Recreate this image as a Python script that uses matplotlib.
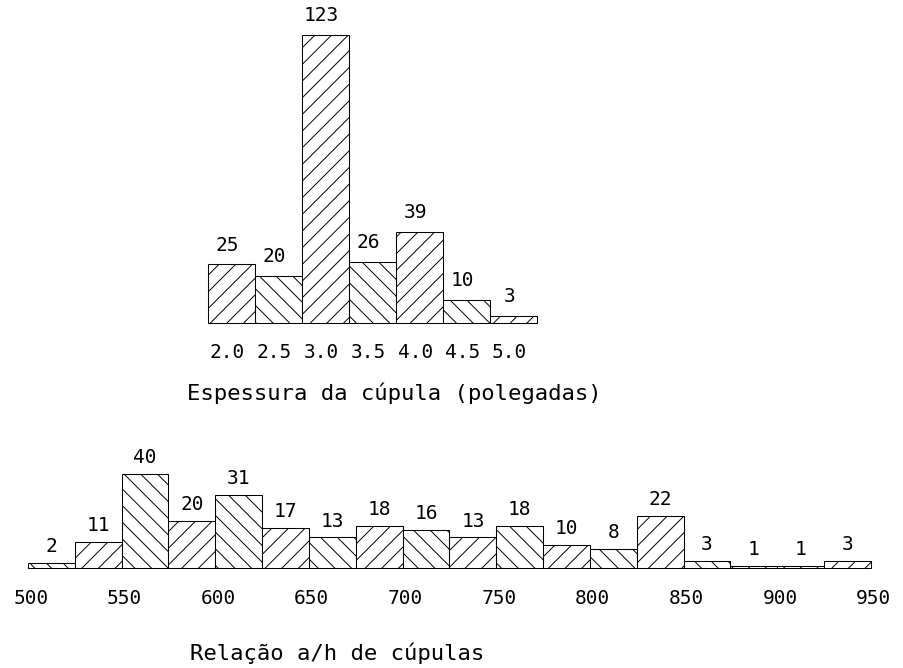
import matplotlib
matplotlib.use("Agg")
import matplotlib.pyplot as plt

plt.rcParams["font.family"] = ["DejaVu Sans Mono", "DejaVu Sans"]
plt.rcParams["hatch.linewidth"] = 0.7
plt.rcParams["hatch.color"] = "black"

# espessura da cupula (polegadas)
esp_x = [2.0, 2.5, 3.0, 3.5, 4.0, 4.5, 5.0]
esp_n = [25, 20, 123, 26, 39, 10, 3]
esp_labels = ["2.0", "2.5", "3.0", "3.5", "4.0", "4.5", "5.0"]

# relacao a/h de cupulas, classes de 25
rel_x = [500, 525, 550, 575, 600, 625, 650, 675, 700, 725, 750, 775, 800, 825, 850, 875, 900, 925]
rel_n = [2, 11, 40, 20, 31, 17, 13, 18, 16, 13, 18, 10, 8, 22, 3, 1, 1, 3]
rel_ticks = [500, 550, 600, 650, 700, 750, 800, 850, 900, 950]

W, H = 904, 668
fig = plt.figure(figsize=(W / 100, H / 100), dpi=100)

def px_axes(left, right, base, top):
    # positions in pixels from top-left
    return fig.add_axes([left / W, (H - base) / H, (right - left) / W, (base - top) / H])

num = dict(fontsize=14, color="black")
ttl = dict(fontsize=16, color="black")

# --- top histogram
ax1 = px_axes(208, 537, 323, 35)
ax1.set_xlim(1.75, 5.25)
ax1.set_ylim(0, 123)
hatches1 = ["//", "\\\\"] * 4
bars = ax1.bar(esp_x, esp_n, width=0.5, color="white", edgecolor="black",
               linewidth=0.75, hatch=hatches1[:len(esp_x)])
for b in bars:
    b.set_clip_on(False)
for x, n in zip(esp_x, esp_n):
    ax1.annotate(str(n), (x, n), xytext=(-3, 7), textcoords="offset points",
                 ha="center", va="bottom", annotation_clip=False, **num)
for x, lab in zip(esp_x, esp_labels):
    ax1.annotate(lab, (x, 0), xytext=(-3, -21), textcoords="offset points",
                 ha="center", va="center", annotation_clip=False, **num)
ax1.axis("off")

# --- bottom histogram
ax2 = px_axes(28, 871, 568, 474)
ax2.set_xlim(500, 950)
ax2.set_ylim(0, 40)
hatches2 = ["\\\\", "//"] * 9
bars = ax2.bar(rel_x, rel_n, width=25, align="edge", color="white", edgecolor="black",
               linewidth=0.75, hatch=hatches2[:len(rel_x)])
for b in bars:
    b.set_clip_on(False)
for x, n in zip(rel_x, rel_n):
    ax2.annotate(str(n), (x + 12.5, n), xytext=(0, 5), textcoords="offset points",
                 ha="center", va="bottom", annotation_clip=False, **num)
for t in rel_ticks:
    ax2.annotate(str(t), (t, 0), xytext=(2, -22), textcoords="offset points",
                 ha="center", va="center", annotation_clip=False, **num)
ax2.axis("off")

fig.text(394 / W, 1 - 393 / H, "Espessura da cúpula (polegadas)",
         ha="center", va="center", **ttl)
fig.text(337 / W, 1 - 653 / H, "Relação a/h de cúpulas",
         ha="center", va="center", **ttl)

fig.savefig("out.png", dpi=100, facecolor="white")
